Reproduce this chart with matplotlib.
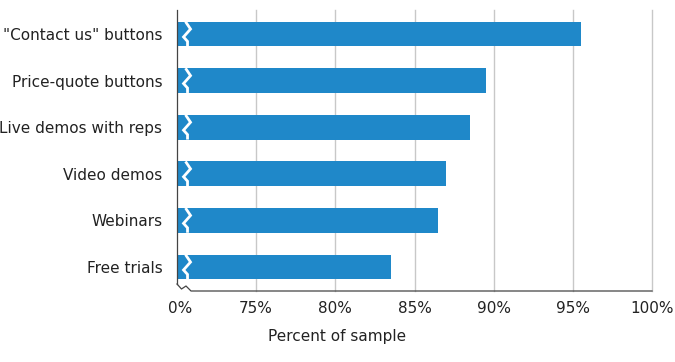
import matplotlib.pyplot as plt
import numpy as np

categories = ['"Contact us" buttons', 'Price-quote buttons', 'Live demos with reps',
              'Video demos', 'Webinars', 'Free trials']
values = [95.5, 89.5, 88.5, 87.0, 86.5, 83.5]
tick_vals = [75, 80, 85, 90, 95, 100]
tick_labels = ['75%', '80%', '85%', '90%', '95%', '100%']

bar_color = '#1f88c9'
axis_min = 70.0
zero_pos = 70.2  # where the "0%" label sits on the broken axis

fig = plt.figure(figsize=(6.75, 3.62), dpi=100)
ax = fig.add_axes([177 / 675, 1 - 291 / 362, 475 / 675, 281 / 362])

y = np.arange(len(categories))
bh = 0.53
ax.barh(y, [v - axis_min for v in values], left=axis_min, height=bh,
        color=bar_color, zorder=3)

# white break marks on each bar (px offsets converted to data units)
px = 5 / 79.0
zx = [185.5, 190.5, 183.5, 187.5, 187.5]
zf = [0, 0.3, 0.62, 0.8, 1.0]
for i in y:
    xs = [axis_min + (p - 177) * px for p in zx]
    ys = [i - bh / 2 + f * bh for f in zf]
    ax.plot(xs, ys, color='white', lw=2.0, zorder=4, solid_joinstyle='miter',
            solid_capstyle='butt')

ax.set_xlim(axis_min, 100)
ax.set_ylim(len(categories) - 1 + 0.515, -0.515)

ax.set_xticks([zero_pos] + tick_vals)
ax.set_xticklabels(['0%'] + tick_labels, fontsize=11, color='#222222')
ax.set_yticks(y)
ax.set_yticklabels(categories, fontsize=11, color='#222222')
ax.tick_params(axis='both', length=0)
ax.tick_params(axis='x', pad=7.5)
ax.tick_params(axis='y', pad=10.5)

for t in tick_vals:
    ax.axvline(t, color='#c8c8c8', lw=1, zorder=1, clip_on=False)

for s in ax.spines.values():
    s.set_visible(False)

# hand-drawn axes with the break on the bottom-left corner
W, H = 475.0, 281.0
ax.plot([0, 0], [1, 7 / H], transform=ax.transAxes, color='#444444', lw=0.9,
        clip_on=False, zorder=5)
bx = [0, 4.5, 9, 14, W]
by = [7, 2, 5, 0, 0]
ax.plot([p / W for p in bx], [p / H for p in by], transform=ax.transAxes,
        color='#444444', lw=0.9, clip_on=False, zorder=5)

fig.text(0.5, 1 - 336 / 362, 'Percent of sample', ha='center', va='center',
         fontsize=11, color='#222222')

fig.savefig('out.png', dpi=100)
